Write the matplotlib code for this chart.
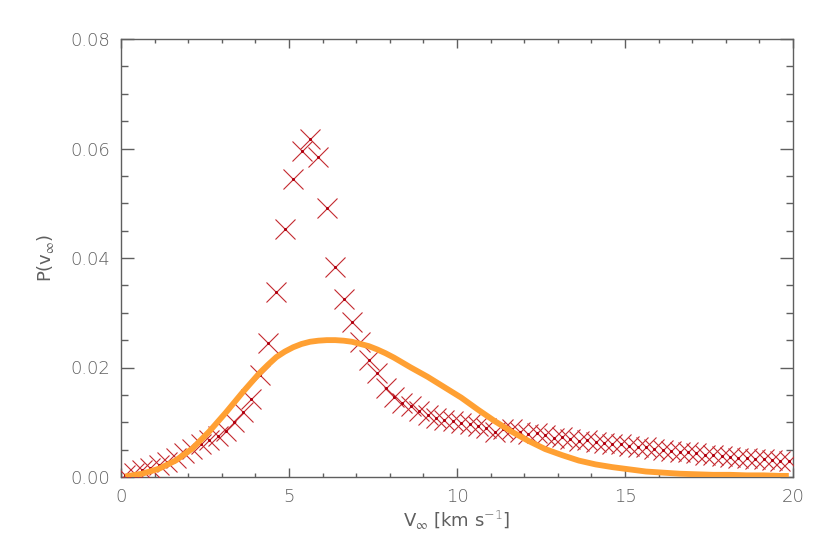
import matplotlib
matplotlib.use("Agg")
import matplotlib.pyplot as plt
from matplotlib.ticker import MultipleLocator

# histogram of v_inf, bin centres every 0.25 km/s
v_bins = [0.125 + 0.25 * k for k in range(80)]
p_hist = [0.0003, 0.0008, 0.0012, 0.0017, 0.0022, 0.0028, 0.0035, 0.0043,
          0.0052, 0.0060, 0.0068, 0.0074, 0.0084, 0.0101, 0.0119, 0.0143,
          0.0186, 0.0244, 0.0337, 0.0453, 0.0545, 0.0595, 0.0618, 0.0584,
          0.0492, 0.0383, 0.0326, 0.0284, 0.0246, 0.0214, 0.0190, 0.0162,
          0.0146, 0.0136, 0.0130, 0.0121, 0.0114, 0.0108, 0.0105, 0.0102,
          0.0099, 0.0096, 0.0093, 0.0089, 0.0082, 0.0088, 0.0087, 0.0083,
          0.0079, 0.0080, 0.0076, 0.0071, 0.0073, 0.0070, 0.0066, 0.0068,
          0.0064, 0.0062, 0.0060, 0.0061, 0.0057, 0.0055, 0.0054, 0.0052,
          0.0050, 0.0048, 0.0046, 0.0045, 0.0043, 0.0041, 0.0040, 0.0038,
          0.0037, 0.0035, 0.0034, 0.0033, 0.0032, 0.0031, 0.0030, 0.0029]

# fitted curve (orange)
v_fit = [0.125, 0.625, 1.125, 1.625, 2.125, 2.625, 3.125, 3.625, 4.125, 4.375,
         4.625, 4.875, 5.125, 5.375, 5.625, 5.875, 6.125, 6.375, 6.625, 6.875,
         7.125, 7.375, 7.625, 7.875, 8.125, 8.625, 9.125, 9.625,
         10.125, 10.625, 11.125, 11.625, 12.125, 12.625, 13.125, 13.625, 14.125,
         14.625, 15.125, 15.625, 16.125, 16.625, 17.125, 17.625, 18.125, 18.625,
         19.125, 19.625, 19.875]
p_fit = [0.0001, 0.0006, 0.0015, 0.0030, 0.0052, 0.0083, 0.0118, 0.0155,
         0.0190, 0.0205, 0.0219, 0.0229, 0.0237, 0.0243, 0.0247, 0.0249,
         0.0250, 0.0250, 0.0249, 0.0247, 0.0243, 0.0239, 0.0233, 0.0226,
         0.0218, 0.0200, 0.0183, 0.0164, 0.0145, 0.0123, 0.0102, 0.0083,
         0.0066, 0.0051, 0.0040, 0.0030, 0.0023, 0.0018, 0.0014, 0.0010,
         0.0008, 0.0006, 0.0005, 0.0004, 0.0004, 0.0003, 0.0003, 0.0002,
         0.0002]

grey = '#5f5f5f'
plt.rcParams['font.family'] = ['DejaVu Sans']
plt.rcParams['font.weight'] = 'light'
plt.rcParams['mathtext.fontset'] = 'dejavusans'

fig = plt.figure(figsize=(8.3, 5.54), dpi=100)
ax = fig.add_axes([121/830, 1 - 477/554, 672/830, 438/554])

ax.plot(v_bins, p_hist, ls='none', marker='x', ms=14, mew=0.8,
        color='#c42a30', zorder=3)
ax.plot(v_bins, p_hist, ls='none', marker='o', ms=2.2, mew=0,
        color='#b00010', zorder=3)
ax.plot(v_fit, p_fit, color='#ffa033', lw=4.2, solid_capstyle='butt',
        solid_joinstyle='round', zorder=4)

ax.set_xlim(0, 20)
ax.set_ylim(0, 0.08)
ax.xaxis.set_major_locator(MultipleLocator(5))
ax.xaxis.set_minor_locator(MultipleLocator(1))
ax.yaxis.set_major_locator(MultipleLocator(0.02))
ax.yaxis.set_minor_locator(MultipleLocator(0.005))
ax.yaxis.set_major_formatter(lambda v, pos: f'{v:.2f}')

ax.tick_params(which='both', direction='in', top=True, right=True,
               color=grey, width=1, labelcolor=grey, labelsize=13)
ax.tick_params(axis='x', which='major', length=6.5, pad=8)
ax.tick_params(axis='x', which='minor', length=3.2)
ax.tick_params(axis='y', which='major', length=9.7, pad=8)
ax.tick_params(axis='y', which='minor', length=5)
for s in ax.spines.values():
    s.set_color(grey)
    s.set_linewidth(1)

ax.set_xlabel(r'V$_\infty$ [km s$^{-1}$]', fontsize=13, color=grey, labelpad=2)
ax.set_ylabel(r'P(v$_\infty$)', fontsize=13, color=grey, labelpad=10)

fig.savefig('out.png', dpi=100)
